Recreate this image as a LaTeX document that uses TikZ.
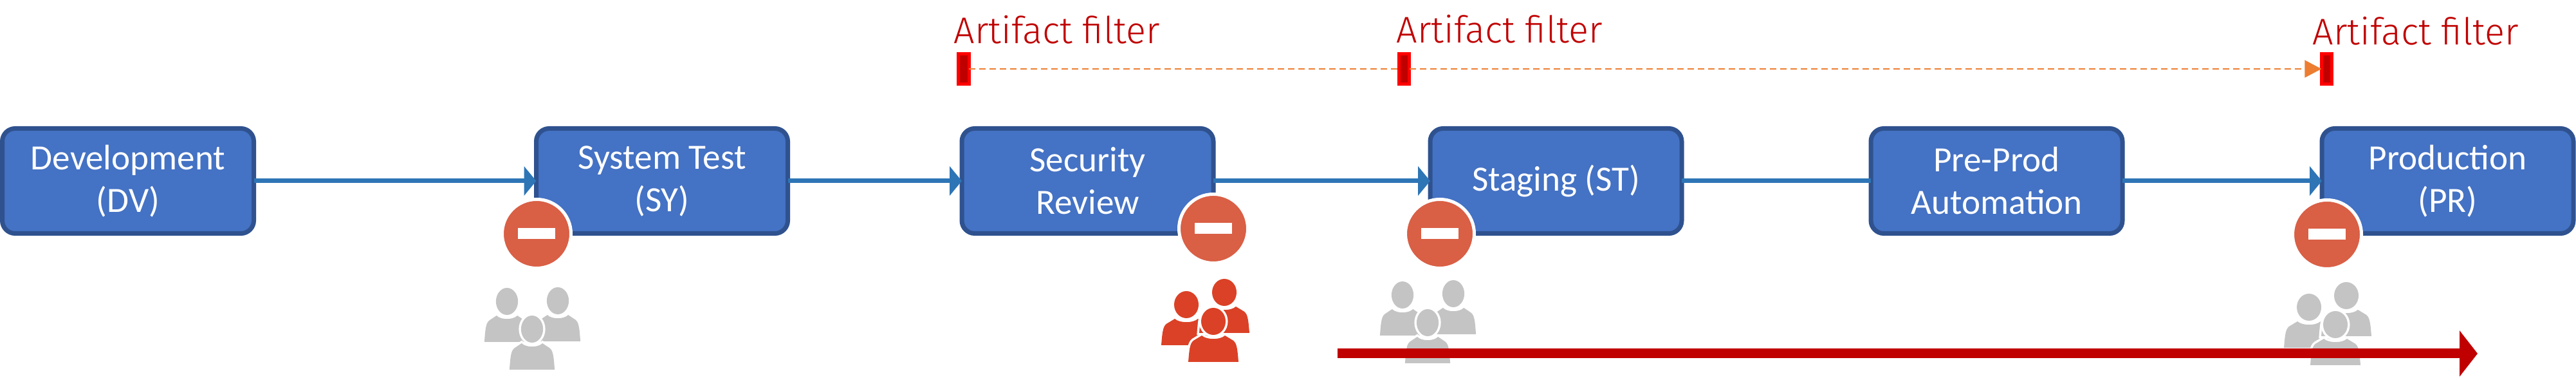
\documentclass[tikz,border=0pt]{standalone}
\usepackage{fontspec}
\setmainfont{Carlito}
\newfontfamily\filterfont{Fira Sans Light}
\usetikzlibrary{arrows.meta}
\definecolor{boxblue}{HTML}{4472C4}
\definecolor{boxedge}{HTML}{2F528F}
\definecolor{flowblue}{HTML}{2E75B6}
\definecolor{darkred}{HTML}{C00000}
\definecolor{stoporange}{HTML}{D95F45}
\definecolor{dashorange}{HTML}{ED7D31}
\definecolor{peoplegray}{HTML}{C4C4C4}
\definecolor{peoplered}{HTML}{DB4126}
\def\personbody{(-.39,-.63) .. controls (-.37,-.38) and (-.36,-.32) .. (-.28,-.28) -- (-.18,-.22)
  .. controls (-.1,-.29) and (.1,-.29) .. (.18,-.22) -- (.28,-.28)
  .. controls (.36,-.32) and (.37,-.38) .. (.39,-.63) -- cycle}
\def\personhead{(0,0) ellipse (.19 and .21)}
\tikzset{
  stage/.style={draw=boxedge, fill=boxblue, line width=.07cm, rounded corners=.2cm, outer sep=0pt,
    minimum width=3.91cm, minimum height=1.63cm, inner sep=0pt, align=center, text=white,
    font=\fontsize{15.7}{18.8}\selectfont},
  flow/.style={draw=flowblue, line width=.07cm, -{Triangle[length=.19cm, width=.45cm]}},
  plainflow/.style={draw=flowblue, line width=.07cm},
  stopsign/.style={circle, fill=stoporange, draw=white, line width=.05cm, minimum size=1.07cm, inner sep=0pt},
  stopbar/.style={fill=white, minimum width=.58cm, minimum height=.17cm, inner sep=0pt},
  filterbar/.style={draw=red, fill=darkred, line width=.05cm, outer sep=0pt, minimum width=.165cm, minimum height=.47cm, inner sep=0pt},
  filterlabel/.style={anchor=base west, inner sep=0pt, text=darkred, font=\filterfont\fontsize{16.4}{19}\selectfont},
  filterline/.style={draw=dashorange, line width=.02cm, dash pattern=on .1cm off .06cm},
  grayperson/.style={fill=peoplegray},
  redperson/.style={fill=peoplered},
  person/.pic={
    \draw[white, line width=.07cm] \personbody;
    \path[pic actions] \personbody;
    \draw[white, line width=.07cm] \personhead;
    \path[pic actions] \personhead;
  }
}
\begin{document}
\begin{tikzpicture}
  \useasboundingbox (0,0) rectangle (40.04,5.9);
  % stages
  \node[stage] (dv) at (1.99,3.09) {Development\\(DV)};
  \node[stage] (sy) at (10.29,3.09) {System Test\\(SY)};
  \node[stage] (sec) at (16.905,3.09) {Security\\Review};
  \node[stage] (st) at (24.185,3.09) {Staging (ST)};
  \node[stage] (pp) at (31.035,3.09) {Pre-Prod\\Automation};
  \node[stage] (pr) at (38.045,3.09) {Production\\(PR)};
  % flow
  \draw[flow] (dv) -- (sy);
  \draw[flow] (sy) -- (sec);
  \draw[flow] (sec) -- (st);
  \draw[plainflow] (st) -- (pp);
  \draw[flow] (pp) -- (pr);
  % artifact filters
  \node[filterbar] (fa) at (14.98,4.83) {};
  \node[filterbar] (fb) at (21.825,4.83) {};
  \node[filterbar] (fc) at (36.165,4.83) {};
  \draw[filterline] (fa) -- (fb);
  \draw[filterline, -{Triangle[length=.26cm, width=.27cm]}] (fb) -- (fc);
  \node[filterlabel] (fatext) at (14.82,5.22) {Artifact filter};
  \node[filterlabel] (fbtext) at (21.70,5.23) {Artifact filter};
  \node[filterlabel] (fctext) at (35.94,5.20) {Artifact filter};
  % stop signs
  \node[stopsign] (stopsy) at (8.34,2.27) {};
  \node[stopbar] (barsy) at (stopsy) {};
  \node[stopsign] (stopsec) at (18.86,2.35) {};
  \node[stopbar] (barsec) at (stopsec) {};
  \node[stopsign] (stopst) at (22.38,2.27) {};
  \node[stopbar] (barst) at (stopst) {};
  \node[stopsign] (stoppr) at (36.17,2.26) {};
  \node[stopbar] (barpr) at (stoppr) {};
  % people
  \pic[grayperson, xscale=.9] at (7.88,1.22) {person};
  \pic[grayperson, xscale=.9] at (8.67,1.23) {person};
  \pic[grayperson, xscale=.9] at (8.27,.79) {person};
  \pic[redperson] at (18.44,1.17) {person};
  \pic[redperson] at (19.03,1.36) {person};
  \pic[redperson] at (18.86,.91) {person};
  \pic[grayperson, xscale=.9] at (21.80,1.32) {person};
  \pic[grayperson, xscale=.9] at (22.59,1.34) {person};
  \pic[grayperson, xscale=.9] at (22.19,.89) {person};
  \pic[grayperson] at (35.89,1.13) {person};
  \pic[grayperson] at (36.47,1.31) {person};
  \pic[grayperson] at (36.30,.86) {person};
  % release arrow
  \coordinate (relstart) at (20.79,.41);
  \coordinate (relend) at (38.51,.41);
  \draw[draw=darkred, line width=.15cm, -{Triangle[length=.28cm, width=.70cm]}] (relstart) -- (relend);
\end{tikzpicture}
\end{document}
